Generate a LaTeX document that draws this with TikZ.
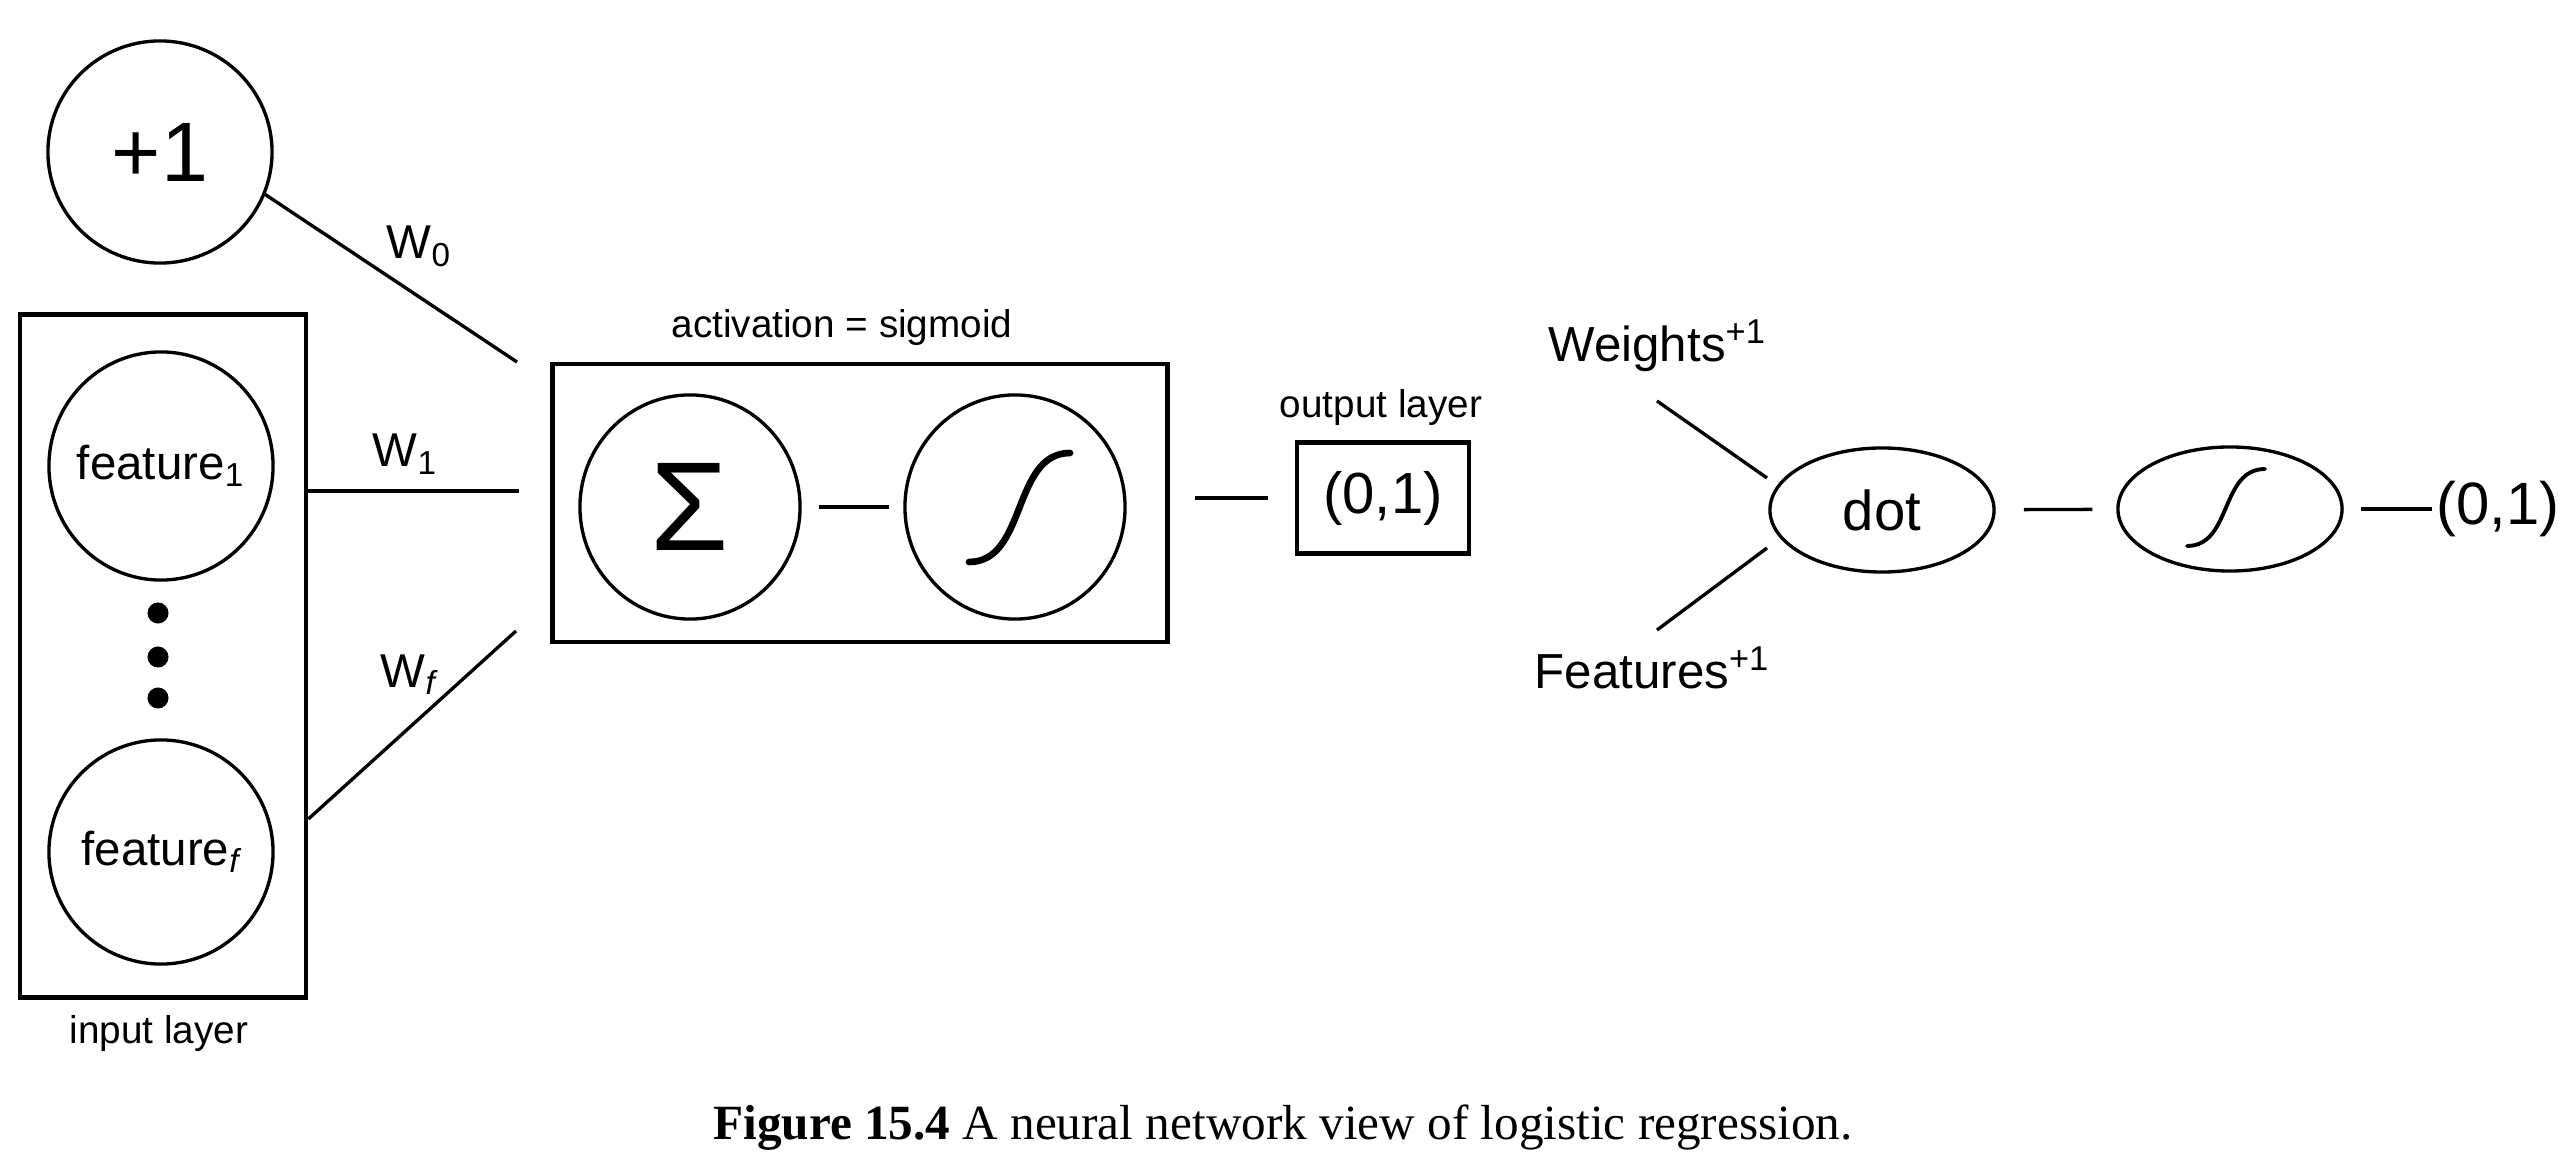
\documentclass[tikz,border=0pt]{standalone}
\usepackage{fontspec}
\setmainfont{Liberation Sans}
\newfontfamily\capfont{Liberation Serif}
\usetikzlibrary{shapes.geometric,calc}
\begin{document}
\begin{tikzpicture}[x=0.01cm,y=-0.01cm,
  unit/.style={draw, ellipse, line width=0.95pt, inner sep=0pt, minimum width=2.24cm, minimum height=2.26cm},
  flat/.style={draw, ellipse, line width=0.95pt, inner sep=0pt, minimum width=2.24cm, minimum height=1.24cm},
  boxx/.style={draw, rectangle, line width=1.3pt, inner sep=0pt},
  conn/.style={line width=0.95pt},
  scurve/.style={line width=1.9pt, line cap=round},
  scurvethin/.style={line width=1.1pt, line cap=round},
  small/.style={font=\fontsize{11}{13}\selectfont, inner sep=0pt, anchor=base},
  wlab/.style={font=\fontsize{13.5}{16}\selectfont, inner sep=0pt, anchor=base west},
  big/.style={font=\fontsize{14}{17}\selectfont, inner sep=0pt, anchor=base west},
  vdot/.style={circle, fill, inner sep=0pt, minimum size=0.21cm}
]
\useasboundingbox (0,0) rectangle (2566,1161);

% ---------- left: input layer ----------
\node[unit, minimum height=2.22cm, font=\fontsize{24}{28}\selectfont] (plus) at (160,152) {+1};
\node[boxx, minimum width=2.86cm, minimum height=6.83cm] (inbox) at (163,656) {};
\node[unit, minimum height=2.28cm, font=\fontsize{13.5}{16}\selectfont] (f1) at (161,466) {\makebox[0pt]{feature\textsubscript{1}}};
\node[vdot] (vd1) at (158,613) {};
\node[vdot] (vd2) at (158,657) {};
\node[vdot] (vd3) at (158,698) {};
\node[unit, minimum height=2.24cm, font=\fontsize{13.5}{16}\selectfont] (ff) at (161,852) {\makebox[0pt]{feature\textsubscript{\itshape f}}};
\node[small] (inlab) at (159,1043) {input layer};

% ---------- weights ----------
\coordinate (w0end) at (517,362);
\coordinate (w1end) at (519,491);
\coordinate (wfend) at (516,631);
\coordinate (wfy) at (0,819);
\draw[conn] (plus.-22) -- (w0end);
\draw[conn] (inbox.east |- w1end) -- (w1end);
\draw[conn] (inbox.east |- wfy) -- (wfend);
\node[wlab] (w0) at (386,259) {W\textsubscript{0}};
\node[wlab] (w1) at (372,467) {W\textsubscript{1}};
\node[wlab] (wf) at (380,687) {W\textsubscript{\itshape f}};

% ---------- activation ----------
\node[boxx, minimum width=6.15cm, minimum height=2.78cm] (act) at (860,503) {};
\node[small] (actlab) at (842,338) {activation = sigmoid};
\node[unit, minimum width=2.2cm, minimum height=2.24cm, font=\fontsize{36}{40}\selectfont] (sum) at (690,507) {Σ};
\node[unit, minimum width=2.2cm, minimum height=2.24cm] (sig) at (1015,507) {};
\draw[scurve] ($(sig)+(-46,55)$) .. controls ($(sig)+(12,55)$) and ($(sig)+(-3,-54)$) .. ($(sig)+(55,-54)$);
\draw[conn, shorten <=0.17cm, shorten >=0.14cm] (sum) -- (sig);

% ---------- output ----------
\node[boxx, minimum width=1.72cm, minimum height=1.11cm, font=\fontsize{16.5}{20}\selectfont] (out) at (1383,498) {(0,1)};
\node[small] (outlab) at (1381,418) {output layer};
\draw[conn, shorten <=0.25cm, shorten >=0.27cm] (act.east |- out) -- (out.west);

% ---------- right: compact view ----------
\node[big] (wts) at (1548,362) {Weights\textsuperscript{+1}};
\node[big] (fts) at (1534,689) {Features\textsuperscript{+1}};
\coordinate (wa) at (1657,401);
\coordinate (wb) at (1767,478);
\coordinate (fa) at (1657,630);
\coordinate (fb) at (1767,548);
\draw[conn] (wa) -- (wb);
\draw[conn] (fa) -- (fb);
\node[flat, font=\fontsize{16}{19}\selectfont] (dotp) at (1882,510) {dot};
\node[flat] (sig2) at (2230,509) {};
\draw[scurvethin] ($(sig2)+(-43,37)$) .. controls ($(sig2)+(2,37)$) and ($(sig2)+(-10,-40)$) .. ($(sig2)+(35,-40)$);
\node[font=\fontsize{17}{20}\selectfont, inner sep=0pt, anchor=west] (out2) at (2436,509) {(0,1)};
\draw[conn, shorten <=0.28cm, shorten >=0.24cm] (dotp) -- (sig2);
\draw[conn, shorten <=0.17cm, shorten >=0.04cm] (sig2) -- (out2);

% ---------- caption ----------
\node[anchor=base, inner sep=0pt, font=\capfont\fontsize{14}{17}\selectfont] (cap) at (1283,1139) {\textbf{Figure 15.4} A neural network view of logistic regression.};
\end{tikzpicture}
\end{document}
